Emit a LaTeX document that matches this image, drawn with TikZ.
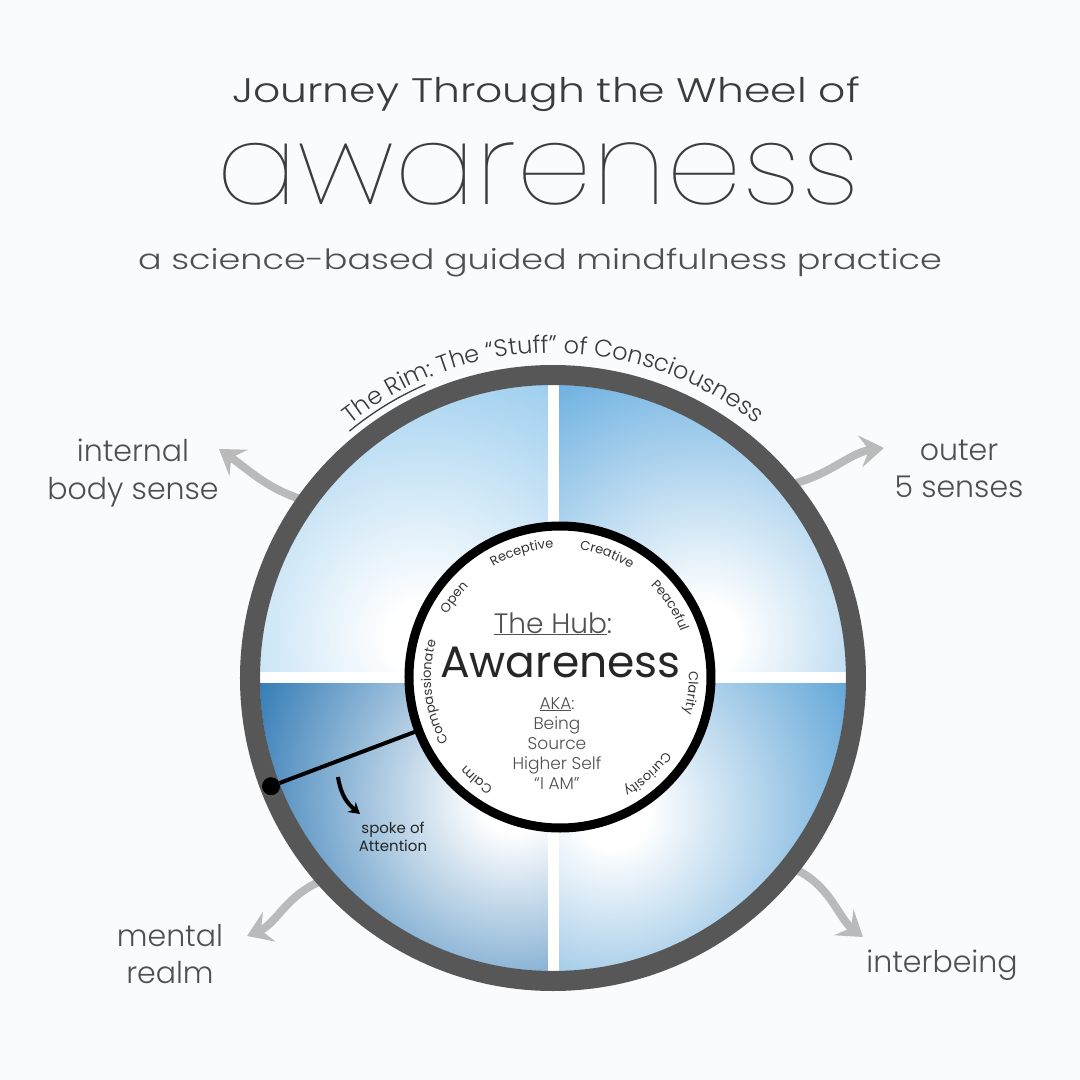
\documentclass[tikz,border=0pt]{standalone}
\usepackage{fontspec}
\IfFontExistsTF{Poppins Light}{\def\popname{Poppins Light}}{\def\popname{Poppins}}
\IfFontExistsTF{Poppins Thin}{\def\thinname{Poppins Thin}}{\let\thinname\popname}
\setmainfont{\popname}
\newfontfamily\regfont{Poppins}
\newfontfamily\widefont{\popname}[FakeStretch=1.25]
\newfontfamily\thinfont{\thinname}[FakeStretch=1.08]
\usetikzlibrary{arrows.meta, decorations.text}

\definecolor{bgcol}{RGB}{249,251,252}
\definecolor{rimgray}{RGB}{87,87,87}
\definecolor{inkgray}{RGB}{80,80,80}
\definecolor{titlegray}{RGB}{60,60,60}
\definecolor{arrowgray}{RGB}{186,186,186}
\definecolor{tlblue}{RGB}{155,205,238}
\definecolor{trblue}{RGB}{112,178,225}
\definecolor{blblue}{RGB}{52,124,182}
\definecolor{brblue}{RGB}{84,158,212}
\colorlet{glowcol}{tlblue}

% white glow in the middle of each quarter
\pgfdeclareradialshading[glowcol]{quadglow}{\pgfpoint{0bp}{0bp}}{color(0bp)=(white); color(3bp)=(white); color(25bp)=(glowcol); color(50bp)=(glowcol)}

\newcommand\ringfont{\regfont\fontsize{13}{13}\selectfont}
\newcommand\rimfont{\fontsize{24}{24}\selectfont}

% quarter of the wheel: start angle, end angle, glow centre, glow radius, colour
\newcommand\quadrant[5]{%
  \begin{scope}
    \clip (0,0) -- (#1:293) arc (#1:#2:293) -- cycle;
    \colorlet{glowcol}{#5}
    \fill[glowcol] (-300,-300) rectangle (300,300);
    \shade[shading=quadglow] #3 circle (#4);
  \end{scope}}

% word on the inside of the hub, clockwise
\newcommand\hubword[2]{%
  \path[shift={(hub.center)}, decorate, decoration={text along path, text align=center,
    text color=black!80, text={|\ringfont|#2}}] ({#1+45}:129) arc ({#1+45}:{#1-45}:129);}

\begin{document}
\begin{tikzpicture}[x=1pt, y=1pt, >={Stealth[length=24pt, width=32pt, inset=9pt]},
  glow arrow/.style={->, draw=arrowgray, line width=8pt},
  sidelabel/.style={align=center, anchor=base, text=inkgray, font=\fontsize{30}{37}\selectfont},
  hubtext/.style={align=center, anchor=base, text=inkgray},
  rim/.style={draw=rimgray, line width=20pt},
  cross/.style={draw=white, line width=11pt}]
\useasboundingbox (-553,-402) rectangle (527,678);
\fill[bgcol] (-553,-402) rectangle (527,678);

% arrows out of the rim
\coordinate (tl-from) at (144:298);
\coordinate (tl-to) at (-334,229);
\coordinate (tr-from) at (40:298);
\coordinate (tr-to) at (331,230);
\coordinate (bl-from) at (222:298);
\coordinate (bl-to) at (-306,-258);
\coordinate (br-from) at (-39:298);
\coordinate (br-to) at (310,-259);
\draw[glow arrow] (tl-from) .. controls (-285,188) and (-300,205) .. (tl-to);
\draw[glow arrow] (tr-from) .. controls (275,200) and (295,225) .. (tr-to);
\draw[glow arrow] (bl-from) .. controls (-265,-212) and (-275,-245) .. (bl-to);
\draw[glow arrow] (br-from) .. controls (275,-200) and (285,-240) .. (br-to);

% wheel
\quadrant{90}{180}{(-130,40)}{290}{tlblue}
\quadrant{0}{90}{(150,40)}{290}{trblue}
\quadrant{180}{270}{(-40,-120)}{280}{blblue}
\quadrant{270}{360}{(60,-135)}{290}{brblue}
\draw[cross] (1,-295) -- (1,295);
\draw[cross] (-295,1) -- (295,1);
\draw[rim] (0,0) circle (303);

\path[decorate, decoration={text along path, text align=center, text color=titlegray,
  text={|\rimfont|The Rim: The “Stuff” of Consciousness}}] (140:325) arc (140:40:325);
\draw[titlegray, line width=1.3pt] (129.5:320) arc (129.5:113.5:320);

% hub and spoke
\node[circle, draw=black, line width=9pt, fill=white, minimum size=302pt, inner sep=0pt] (hub) at (7,1) {};
\node[circle, fill=black, inner sep=0pt, minimum size=18pt] (dot) at (201:302) {};
\draw[line width=4pt] (dot) -- (hub);

\hubword{143}{Open}
\hubword{107}{Receptive}
\hubword{69}{Creative}
\hubword{33}{Peaceful}
\hubword{-7}{Clarity}
\hubword{-48}{Curiosity}
\hubword{-129}{Calm}
\hubword{187}{Compassionate}

\node[hubtext, font=\fontsize{28}{28}\selectfont] (hub-title) at (0,45) {\underline{The Hub}:};
\node[hubtext, text=black!85, font=\regfont\fontsize{44}{44}\selectfont] (hub-word) at (7.5,1) {Awareness};
\node[hubtext, font=\fontsize{17}{20}\selectfont] (aka) at (4,-111) {\underline{AKA}:\\Being\\Source\\Higher Self\\“I AM”};

% spoke of attention
\coordinate (attn-from) at (-215,-99);
\coordinate (attn-to) at (-193,-136);
\draw[line width=4pt, -{Stealth[length=11pt, width=13pt]}] (attn-from) .. controls (-212,-118) and (-205,-126) .. (attn-to);
\node[hubtext, text=black!85, font=\regfont\fontsize{15}{18}\selectfont] (attn-label) at (-160,-173) {spoke of\\Attention};

% labels round the wheel
\node[sidelabel] (body-label) at (-420,179) {internal\\body sense};
\node[sidelabel] (senses-label) at (406,181) {outer\\5 senses};
\node[sidelabel] (mental-label) at (-383,-305) {mental\\realm};
\node[sidelabel] (inter-label) at (389,-294) {interbeing};

% title
\node[anchor=base, text=titlegray, font=\widefont\fontsize{34}{34}\selectfont] (title-top) at (-7,575) {Journey Through the Wheel of};
\node[anchor=base, text=titlegray, font=\thinfont\fontsize{112}{112}\selectfont] (title-main) at (-15,473) {awareness};
\node[anchor=base, text=inkgray, font=\widefont\fontsize{28}{28}\selectfont] (title-sub) at (-13,408) {a science-based guided mindfulness practice};
\end{tikzpicture}
\end{document}
